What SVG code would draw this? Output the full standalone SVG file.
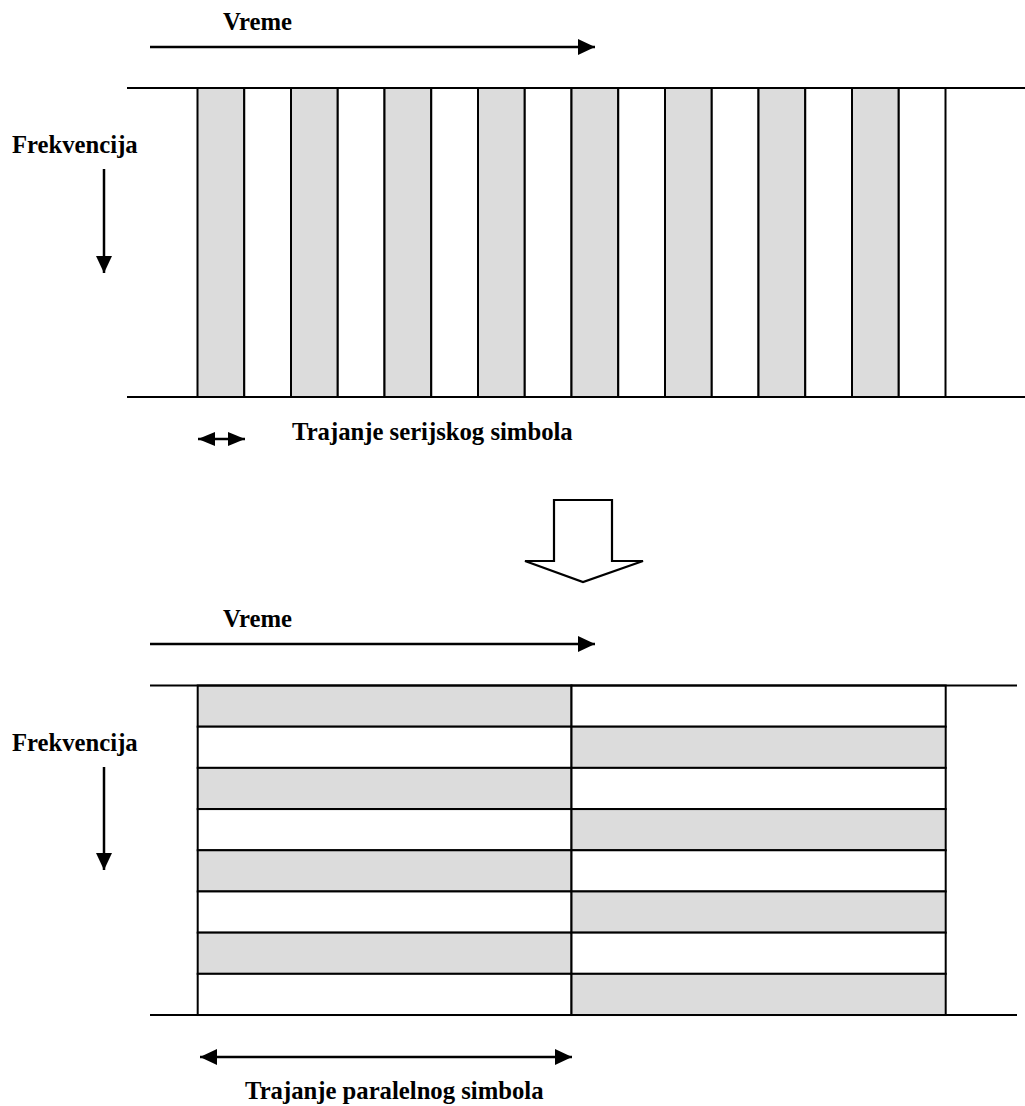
<svg xmlns="http://www.w3.org/2000/svg" width="1025" height="1106" viewBox="0 0 1025 1106">
<style>
.t{font-family:'Liberation Serif','DejaVu Serif','Times New Roman',serif;font-weight:700;font-size:24.7px;fill:#000}
.ln{stroke:#000;stroke-width:2;fill:none}
.g{fill:#dcdcdc;stroke:#000;stroke-width:2}
.w{fill:#fff;stroke:#000;stroke-width:2}
.ar{stroke:#000;stroke-width:2.5;fill:none}
</style>
<defs>
<marker id="ah" viewBox="0 0 17 16" refX="17" refY="8" markerWidth="17" markerHeight="16" markerUnits="userSpaceOnUse" orient="auto-start-reverse">
<path d="M0,0 L17,8 L0,16 Z" fill="#000"/>
</marker>
<marker id="ahs" viewBox="0 0 17 14" refX="17" refY="7" markerWidth="17" markerHeight="14" markerUnits="userSpaceOnUse" orient="auto-start-reverse">
<path d="M0,0 L17,7 L0,14 Z" fill="#000"/>
</marker>
</defs>

<g id="top-grid">
<rect class="g" x="197.5" y="88" width="46.75" height="309"/>
<rect class="w" x="244.25" y="88" width="46.75" height="309"/>
<rect class="g" x="291" y="88" width="46.75" height="309"/>
<rect class="w" x="337.75" y="88" width="46.75" height="309"/>
<rect class="g" x="384.5" y="88" width="46.75" height="309"/>
<rect class="w" x="431.25" y="88" width="46.75" height="309"/>
<rect class="g" x="478" y="88" width="46.75" height="309"/>
<rect class="w" x="524.75" y="88" width="46.75" height="309"/>
<rect class="g" x="571.5" y="88" width="46.75" height="309"/>
<rect class="w" x="618.25" y="88" width="46.75" height="309"/>
<rect class="g" x="665" y="88" width="46.75" height="309"/>
<rect class="w" x="711.75" y="88" width="46.75" height="309"/>
<rect class="g" x="758.5" y="88" width="46.75" height="309"/>
<rect class="w" x="805.25" y="88" width="46.75" height="309"/>
<rect class="g" x="852" y="88" width="46.75" height="309"/>
<rect class="w" x="898.75" y="88" width="46.75" height="309"/>
<line class="ln" x1="127" y1="88" x2="1025" y2="88"/>
<line class="ln" x1="127" y1="397" x2="1025" y2="397"/>
</g>

<g id="bottom-grid">
<rect class="g" x="197.7" y="685.5" width="373.8" height="41.19"/>
<rect class="w" x="197.7" y="726.69" width="373.8" height="41.19"/>
<rect class="g" x="197.7" y="767.88" width="373.8" height="41.19"/>
<rect class="w" x="197.7" y="809.07" width="373.8" height="41.19"/>
<rect class="g" x="197.7" y="850.26" width="373.8" height="41.19"/>
<rect class="w" x="197.7" y="891.45" width="373.8" height="41.19"/>
<rect class="g" x="197.7" y="932.64" width="373.8" height="41.19"/>
<rect class="w" x="197.7" y="973.83" width="373.8" height="41.19"/>
<rect class="w" x="571.5" y="685.5" width="374.2" height="41.19"/>
<rect class="g" x="571.5" y="726.69" width="374.2" height="41.19"/>
<rect class="w" x="571.5" y="767.88" width="374.2" height="41.19"/>
<rect class="g" x="571.5" y="809.07" width="374.2" height="41.19"/>
<rect class="w" x="571.5" y="850.26" width="374.2" height="41.19"/>
<rect class="g" x="571.5" y="891.45" width="374.2" height="41.19"/>
<rect class="w" x="571.5" y="932.64" width="374.2" height="41.19"/>
<rect class="g" x="571.5" y="973.83" width="374.2" height="41.19"/>
<line class="ln" x1="150" y1="685.5" x2="1017" y2="685.5"/>
<line class="ln" x1="150" y1="1015" x2="1017" y2="1015"/>
</g>

<g id="block-arrow">
<polygon points="554,500 612,500 612,561 643,561 583,582 525,561 554,561" fill="#fff" stroke="#000" stroke-width="2.2" stroke-linejoin="miter"/>
</g>

<g id="connectors">
<line class="ar" x1="150" y1="47" x2="595" y2="47" marker-end="url(#ah)"/>
<line class="ar" x1="104" y1="169" x2="104" y2="273" marker-end="url(#ah)"/>
<line class="ar" x1="198" y1="439" x2="245" y2="439" stroke-width="3.5" marker-start="url(#ahs)" marker-end="url(#ahs)"/>
<line class="ar" x1="150" y1="644" x2="595" y2="644" marker-end="url(#ah)"/>
<line class="ar" x1="104" y1="767" x2="104" y2="870" marker-end="url(#ah)"/>
<line class="ar" x1="200" y1="1057" x2="572" y2="1057" marker-start="url(#ah)" marker-end="url(#ah)"/>
</g>

<g id="labels">
<text class="t" font-family="Liberation Serif, serif" x="223" y="30">Vreme</text>
<text class="t" font-family="Liberation Serif, serif" x="12" y="153">Frekvencija</text>
<text class="t" font-family="Liberation Serif, serif" x="292" y="440">Trajanje serijskog simbola</text>
<text class="t" font-family="Liberation Serif, serif" x="223" y="627">Vreme</text>
<text class="t" font-family="Liberation Serif, serif" x="12" y="751">Frekvencija</text>
<text class="t" font-family="Liberation Serif, serif" x="245" y="1099">Trajanje paralelnog simbola</text>
</g>
</svg>
